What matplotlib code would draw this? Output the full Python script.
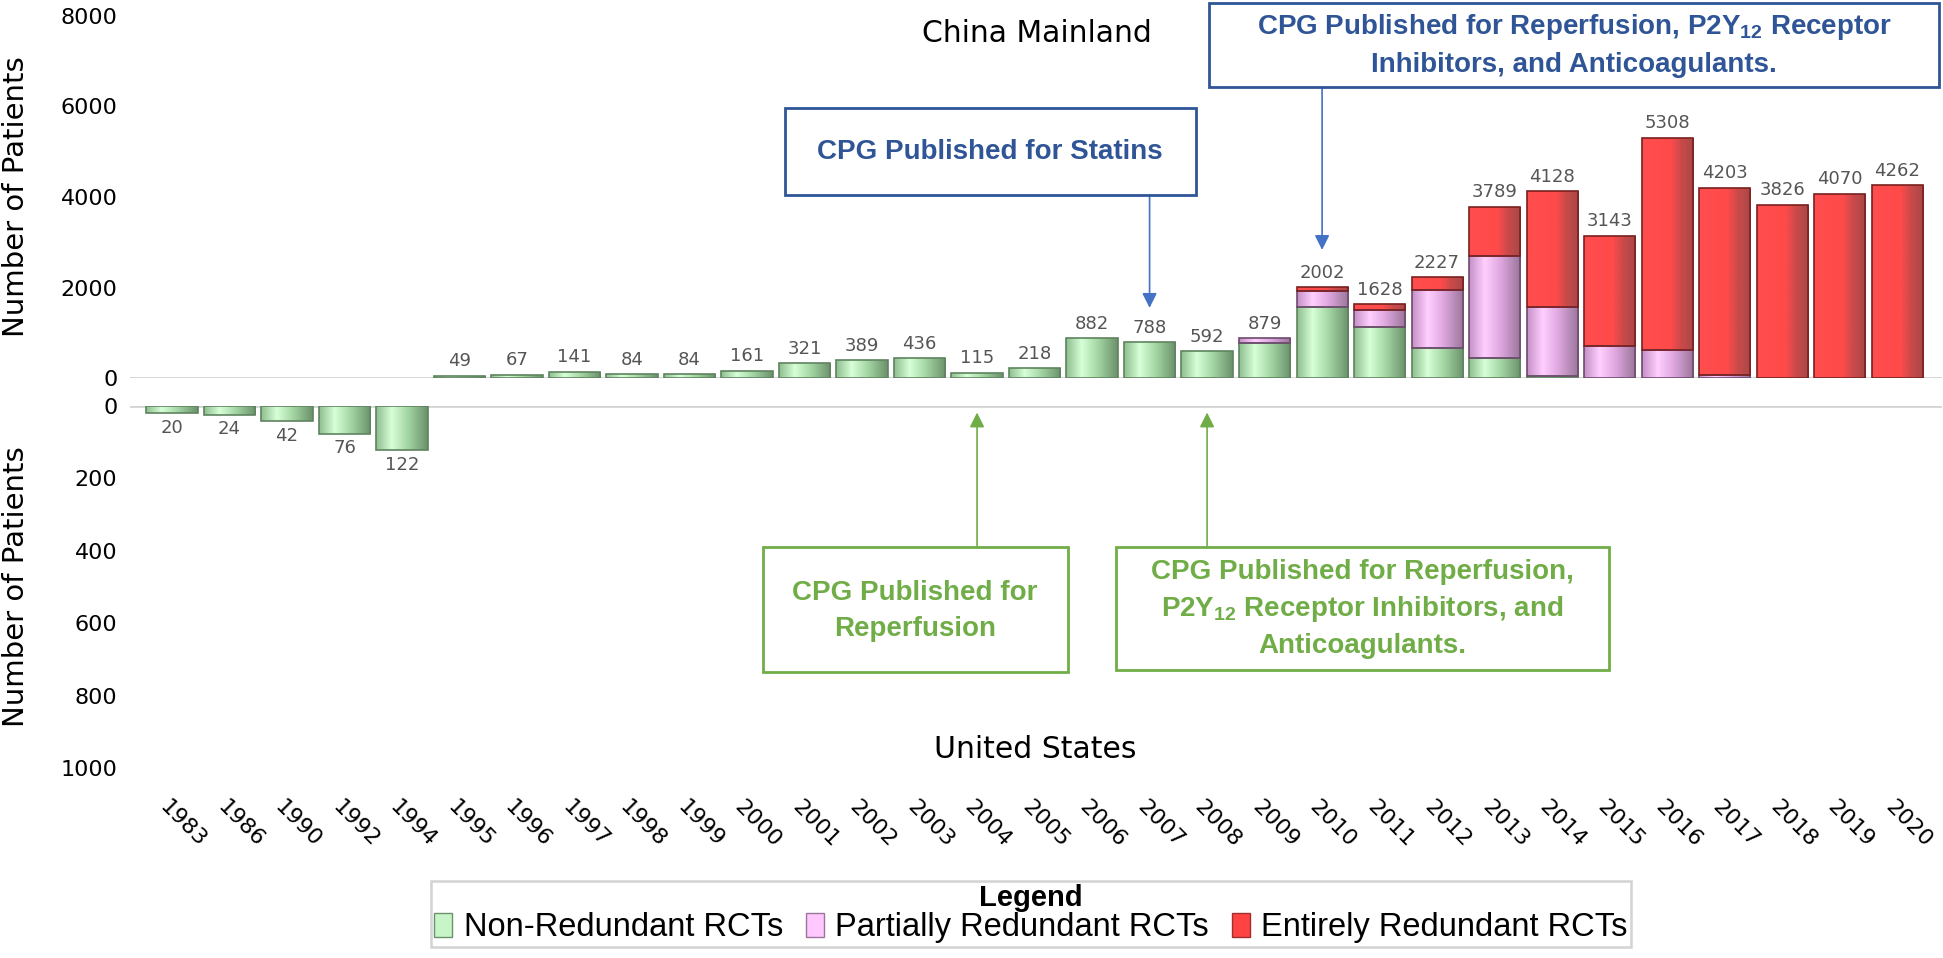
import matplotlib
matplotlib.use('Agg')
import matplotlib.pyplot as plt
import numpy as np
from matplotlib.colors import LinearSegmentedColormap
from matplotlib.patches import Rectangle, Patch
from matplotlib.transforms import ScaledTranslation

W, H = 1943, 958

years = ['1983', '1986', '1990', '1992', '1994', '1995', '1996', '1997', '1998', '1999',
         '2000', '2001', '2002', '2003', '2004', '2005', '2006', '2007', '2008', '2009',
         '2010', '2011', '2012', '2013', '2014', '2015', '2016', '2017', '2018', '2019', '2020']

# China Mainland, stacked: non / partially / entirely redundant
china_non = [0, 0, 0, 0, 0, 49, 67, 141, 84, 84,
             161, 321, 389, 436, 115, 218, 882, 788, 592, 770,
             1580, 1120, 660, 440, 40, 0, 0, 0, 0, 0, 0]
china_partial = [0] * 19 + [109, 350, 390, 1290, 2260, 1540, 700, 620, 60, 0, 0, 0]
china_entire = [0] * 20 + [72, 118, 277, 1089, 2548, 2443, 4688, 4143, 3826, 4070, 4262]

# United States (all non-redundant)
us_non = [20, 24, 42, 76, 122] + [0] * 26

plt.rcParams['mathtext.fontset'] = 'custom'
plt.rcParams['mathtext.rm'] = 'Liberation Sans'
plt.rcParams['mathtext.bf'] = 'Liberation Sans:bold'

cm_green = LinearSegmentedColormap.from_list('g', [(0, '#8fbf8f'), (0.3, '#d8ffd8'), (0.6, '#a6d8a6'), (1, '#6c926c')])
cm_pink = LinearSegmentedColormap.from_list('p', [(0, '#c690c6'), (0.3, '#ffd0ff'), (0.6, '#e0a8e0'), (1, '#9a769a')])
cm_red = LinearSegmentedColormap.from_list('r', [(0, '#ff4d4d'), (0.55, '#ff4a4a'), (0.75, '#cc4a4a'), (1, '#a84848')])
grad = np.linspace(0, 1, 64).reshape(1, -1)
BW = 0.89


def seg(ax, x, bottom, height, cmap, edge):
    if height <= 0:
        return
    p = ax.bar(x, height, BW, bottom=bottom, facecolor='none', edgecolor=edge, linewidth=1.2, zorder=3)[0]
    im = ax.imshow(grad, cmap=cmap, extent=(x - BW / 2, x + BW / 2, bottom, bottom + height),
                   aspect='auto', zorder=2, interpolation='bilinear')
    im.set_clip_path(p)


fig = plt.figure(figsize=(W / 100, H / 100), dpi=100)
ax_top = fig.add_axes([130 / W, 1 - 378 / H, (1942 - 130) / W, (378 - 16) / H])
ax_bot = fig.add_axes([130 / W, 1 - 768 / H, (1942 - 130) / W, (768 - 406) / H])

x = np.arange(len(years))
for i in x:
    b = 0
    seg(ax_top, i, b, china_non[i], cm_green, '#5f835f')
    b += china_non[i]
    seg(ax_top, i, b, china_partial[i], cm_pink, '#6e4a6e')
    b += china_partial[i]
    seg(ax_top, i, b, china_entire[i], cm_red, '#7a2020')
    b += china_entire[i]
    if b > 0:
        ax_top.annotate(str(b), (i, b), xytext=(0, 4), textcoords='offset points',
                        ha='center', va='bottom', fontsize=13, color='#555555')
    seg(ax_bot, i, 0, us_non[i], cm_green, '#5f835f')
    if us_non[i] > 0:
        ax_bot.annotate(str(us_non[i]), (i, us_non[i]), xytext=(0, -4), textcoords='offset points',
                        ha='center', va='top', fontsize=13, color='#555555')

for ax in (ax_top, ax_bot):
    ax.set_xlim(-0.73, 30.78)
    for s in ax.spines.values():
        s.set_visible(False)
    ax.axhline(0, color='#d4d4d4', lw=2, zorder=1)
    ax.tick_params(axis='y', length=0, pad=9, labelsize=16)
    ax.set_ylabel('Number of Patients', fontsize=21)
    ax.yaxis.set_label_coords(-0.055, 0.5)

ax_top.set_ylim(0, 8000)
ax_top.set_yticks([0, 2000, 4000, 6000, 8000])
ax_top.set_xticks([])

ax_bot.set_ylim(1000, 0)
ax_bot.set_yticks([0, 200, 400, 600, 800, 1000])
ax_bot.set_xticks(x)
ax_bot.set_xticklabels(years, rotation=-45, ha='left', va='center', rotation_mode='anchor')
ax_bot.tick_params(axis='x', length=0, pad=26, labelsize=16)
for lab in ax_bot.get_xticklabels():
    lab.set_transform(lab.get_transform() + ScaledTranslation(-0.09, 0, fig.dpi_scale_trans))

fig.text(1037 / W, 1 - 34 / H, 'China Mainland', ha='center', va='center', fontsize=21.5)
fig.text(1035 / W, 1 - 750 / H, 'United States', ha='center', va='center', fontsize=21.5)

blue, blue_arrow = '#2f5597', '#4472c4'
green = '#70ad47'


def box(x0, y0, x1, y1, color):
    fig.add_artist(Rectangle((x0 / W, 1 - y1 / H), (x1 - x0) / W, (y1 - y0) / H,
                             transform=fig.transFigure, fill=False, ec=color, lw=2))


def btext(xc, yc, s, color):
    fig.text(xc / W, 1 - yc / H, s, ha='center', va='center', fontsize=20,
             fontweight='bold', color=color, family='Liberation Sans', linespacing=1.45)


# blue boxes (China)
box(785, 108, 1196, 195, blue)
btext(990, 152, 'CPG Published for Statins', blue)
box(1209, 3, 1939, 87, blue)
btext(1574, 45, 'CPG Published for Reperfusion, P2Y$_{\\mathbf{12}}$ Receptor\nInhibitors, and Anticoagulants.', blue)

ax_top.annotate('', xy=(17, 1550), xytext=(17, 1 - 195 / H), textcoords=('data', 'figure fraction'),
                arrowprops=dict(arrowstyle='-|>', color=blue_arrow, lw=1.2, mutation_scale=22, shrinkA=0, shrinkB=0))
ax_top.annotate('', xy=(20, 2830), xytext=(20, 1 - 87 / H), textcoords=('data', 'figure fraction'),
                arrowprops=dict(arrowstyle='-|>', color=blue_arrow, lw=1.2, mutation_scale=22, shrinkA=0, shrinkB=0))

# green boxes (United States)
box(763, 547, 1068, 672, green)
btext(915, 611, 'CPG Published for\nReperfusion', green)
box(1116, 547, 1609, 670, green)
btext(1362, 609, 'CPG Published for Reperfusion,\nP2Y$_{\\mathbf{12}}$ Receptor Inhibitors, and\nAnticoagulants.', green)

ax_bot.annotate('', xy=(14, 18), xytext=(14, 1 - 547 / H), textcoords=('data', 'figure fraction'),
                arrowprops=dict(arrowstyle='-|>', color=green, lw=1.2, mutation_scale=22, shrinkA=0, shrinkB=0))
ax_bot.annotate('', xy=(18, 18), xytext=(18, 1 - 547 / H), textcoords=('data', 'figure fraction'),
                arrowprops=dict(arrowstyle='-|>', color=green, lw=1.2, mutation_scale=22, shrinkA=0, shrinkB=0))

handles = [Patch(facecolor='#c8f5c8', edgecolor='#6c926c'),
           Patch(facecolor='#ffc8ff', edgecolor='#9a769a'),
           Patch(facecolor='#ff4242', edgecolor='#a03030')]
labels = ['Non-Redundant RCTs', 'Partially Redundant RCTs', 'Entirely Redundant RCTs']
leg = fig.legend(handles, labels, ncol=3, loc='upper center', bbox_to_anchor=(1031 / W, 1 - 881 / H),
                 title='Legend', title_fontproperties={'weight': 'bold', 'size': 21, 'family': 'Liberation Sans'},
                 prop={'family': 'Liberation Sans', 'size': 23.5},
                 frameon=True, fancybox=False, edgecolor='#c8c8c8', borderpad=0.1, labelspacing=0.0,
                 columnspacing=0.7, handletextpad=0.35, handlelength=0.55, handleheight=0.75,
                 borderaxespad=0)
leg.get_frame().set_linewidth(1.8)

plt.savefig('out.png', dpi=100)
